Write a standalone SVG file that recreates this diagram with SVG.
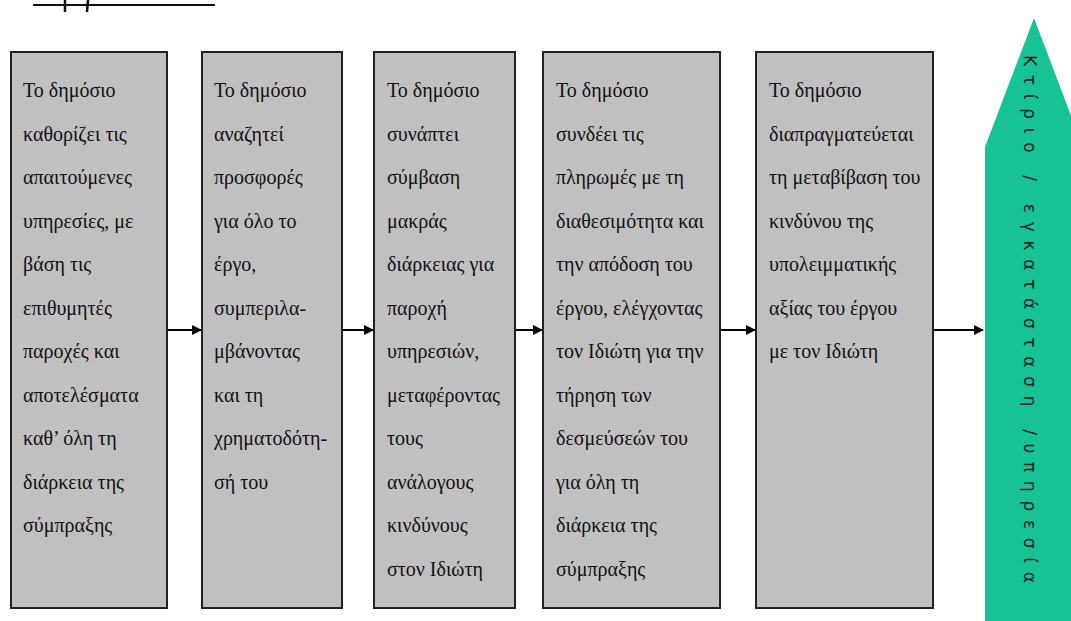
<svg xmlns="http://www.w3.org/2000/svg" width="1071" height="621" viewBox="0 0 1071 621">
<defs>
<style>
.box{fill:#c0c0c0;stroke:#222;stroke-width:2}
.t{font-family:"Liberation Serif","DejaVu Serif",serif;font-size:20px;fill:#111}
.c{stroke:#000;stroke-width:2;fill:none;marker-end:url(#ah)}
.vt{font-family:"DejaVu Sans","Liberation Sans",sans-serif;font-size:17px;fill:#222}
</style>
<marker id="ah" markerWidth="10" markerHeight="10" refX="9" refY="5" orient="auto" markerUnits="userSpaceOnUse">
<path d="M0,0 L10,5 L0,10 Z" fill="#000"/>
</marker>
</defs>
<rect width="1071" height="621" fill="#fff"/>
<g id="title-rule">
<line x1="33" y1="5" x2="215" y2="5" stroke="#111" stroke-width="2"/>
<line x1="65" y1="0" x2="65" y2="12" stroke="#111" stroke-width="2.5"/>
<line x1="88" y1="0" x2="87" y2="12" stroke="#111" stroke-width="2.5"/>
</g>
<g id="node1">
<rect class="box" x="11" y="52" width="156" height="556"/>
<text class="t" x="23" y="97">
<tspan x="23" dy="0">Το δημόσιο</tspan>
<tspan x="23" dy="43.5">καθορίζει τις</tspan>
<tspan x="23" dy="43.5">απαιτούμενες</tspan>
<tspan x="23" dy="43.5">υπηρεσίες, με</tspan>
<tspan x="23" dy="43.5">βάση τις</tspan>
<tspan x="23" dy="43.5">επιθυμητές</tspan>
<tspan x="23" dy="43.5">παροχές και</tspan>
<tspan x="23" dy="43.5">αποτελέσματα</tspan>
<tspan x="23" dy="43.5">καθ’ όλη τη</tspan>
<tspan x="23" dy="43.5">διάρκεια της</tspan>
<tspan x="23" dy="43.5">σύμπραξης</tspan>
</text>
</g>
<g id="node2">
<rect class="box" x="202" y="52" width="140" height="556"/>
<text class="t" x="214" y="97">
<tspan x="214" dy="0">Το δημόσιο</tspan>
<tspan x="214" dy="43.5">αναζητεί</tspan>
<tspan x="214" dy="43.5">προσφορές</tspan>
<tspan x="214" dy="43.5">για όλο το</tspan>
<tspan x="214" dy="43.5">έργο,</tspan>
<tspan x="214" dy="43.5">συμπεριλα-</tspan>
<tspan x="214" dy="43.5">μβάνοντας</tspan>
<tspan x="214" dy="43.5">και τη</tspan>
<tspan x="214" dy="43.5">χρηματοδότη-</tspan>
<tspan x="214" dy="43.5">σή του</tspan>
</text>
</g>
<g id="node3">
<rect class="box" x="374" y="52" width="141" height="556"/>
<text class="t" x="387" y="97">
<tspan x="387" dy="0">Το δημόσιο</tspan>
<tspan x="387" dy="43.5">συνάπτει</tspan>
<tspan x="387" dy="43.5">σύμβαση</tspan>
<tspan x="387" dy="43.5">μακράς</tspan>
<tspan x="387" dy="43.5">διάρκειας για</tspan>
<tspan x="387" dy="43.5">παροχή</tspan>
<tspan x="387" dy="43.5">υπηρεσιών,</tspan>
<tspan x="387" dy="43.5">μεταφέροντας</tspan>
<tspan x="387" dy="43.5">τους</tspan>
<tspan x="387" dy="43.5">ανάλογους</tspan>
<tspan x="387" dy="43.5">κινδύνους</tspan>
<tspan x="387" dy="43.5">στον Ιδιώτη</tspan>
</text>
</g>
<g id="node4">
<rect class="box" x="543" y="52" width="177" height="556"/>
<text class="t" x="556" y="97">
<tspan x="556" dy="0">Το δημόσιο</tspan>
<tspan x="556" dy="43.5">συνδέει τις</tspan>
<tspan x="556" dy="43.5">πληρωμές με τη</tspan>
<tspan x="556" dy="43.5">διαθεσιμότητα και</tspan>
<tspan x="556" dy="43.5">την απόδοση του</tspan>
<tspan x="556" dy="43.5">έργου, ελέγχοντας</tspan>
<tspan x="556" dy="43.5">τον Ιδιώτη για την</tspan>
<tspan x="556" dy="43.5">τήρηση των</tspan>
<tspan x="556" dy="43.5">δεσμεύσεών του</tspan>
<tspan x="556" dy="43.5">για όλη τη</tspan>
<tspan x="556" dy="43.5">διάρκεια της</tspan>
<tspan x="556" dy="43.5">σύμπραξης</tspan>
</text>
</g>
<g id="node5">
<rect class="box" x="756" y="52" width="177" height="556"/>
<text class="t" x="769" y="97">
<tspan x="769" dy="0">Το δημόσιο</tspan>
<tspan x="769" dy="43.5">διαπραγματεύεται</tspan>
<tspan x="769" dy="43.5">τη μεταβίβαση του</tspan>
<tspan x="769" dy="43.5">κινδύνου της</tspan>
<tspan x="769" dy="43.5">υπολειμματικής</tspan>
<tspan x="769" dy="43.5">αξίας του έργου</tspan>
<tspan x="769" dy="43.5">με τον Ιδιώτη</tspan>
</text>
</g>
<g id="node6">
<polygon points="985,621 985,147 1034,18 1083,147 1083,621" fill="#17c295"/>
<text class="vt" transform="translate(1024,55) rotate(90)" x="0" y="0" textLength="528" lengthAdjust="spacing">Κτίριο / εγκατάσταση /υπηρεσία</text>
</g>
<g id="connectors">
<line class="c" x1="168" y1="330" x2="201" y2="330"/>
<line class="c" x1="343" y1="330" x2="373" y2="330"/>
<line class="c" x1="516" y1="330" x2="542" y2="330"/>
<line class="c" x1="721" y1="330" x2="755" y2="330"/>
<line class="c" x1="934" y1="330" x2="983" y2="330"/>
</g>
</svg>
